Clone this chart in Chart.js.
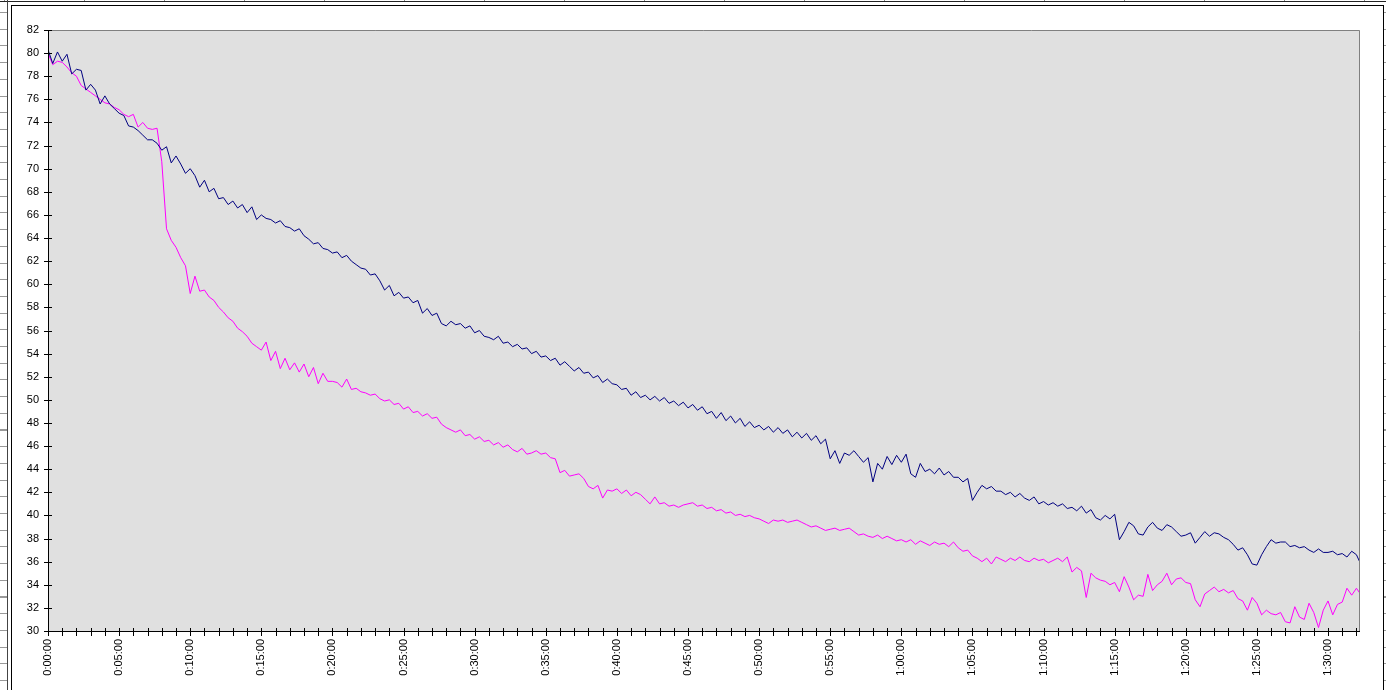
<!DOCTYPE html>
<html>
<head>
<meta charset="utf-8">
<script src="https://cdn.jsdelivr.net/npm/chart.js@4.4.1/dist/chart.umd.min.js"></script>
<style>
  html, body { margin: 0; padding: 0; background: #fff; width: 1386px; height: 690px; overflow: hidden; }
  .abs { position: absolute; }
  #topline { left: 0; top: 1px; width: 1386px; height: 1px; background: #222; }
  #cols { left: 0; top: 0; width: 1386px; height: 1px;
    background: repeating-linear-gradient(to right, transparent 0 4px, #888 4px 5px, transparent 5px 80px); }
  #leftv { left: 7px; top: 0; width: 1px; height: 690px; background: #444; }
  #leftrows { left: 0; top: 0; width: 7px; height: 690px;
    background: repeating-linear-gradient(to bottom, transparent 0 12px, #999 12px 13px, transparent 13px 16.7px); }
  #rightrows { left: 1384px; top: 0; width: 2px; height: 690px;
    background: repeating-linear-gradient(to bottom, transparent 0 12px, #999 12px 13px, transparent 13px 16.7px); }
  #frame { left: 11px; top: 5px; width: 1373px; height: 700px; border: 1px solid #000; box-sizing: border-box; background: #fff; }
  #wrap { left: 12px; top: 6px; width: 1371px; height: 684px; }
</style>
</head>
<body>
<div class="abs" id="cols"></div>
<div class="abs" id="topline"></div>
<div class="abs" id="leftrows"></div>
<div class="abs" id="leftv"></div>
<div class="abs" id="rightrows"></div>
<div class="abs" id="frame"></div>
<div class="abs" id="wrap"><canvas id="c" width="1371" height="684"></canvas></div>
<script>
// Sampling interval of the recorded series (minutes): one value every 20 s
const STEP_MIN = 1 / 3;

// Series 1 (navy) – values every 20 s starting at 0:00:00
const navySeries = [
  80.3, 79.1, 80.1,  79.3, 79.9, 78.2,  78.6, 78.5, 76.8,  77.3, 76.8, 75.6,
  76.3, 75.6, 75.2,  74.8, 74.6, 73.7,  73.6, 73.3, 72.9,  72.5, 72.5, 72.2,
  71.6, 71.9, 70.5,  71.1, 70.4, 69.6,  70.0, 69.4, 68.4,  69.0, 68.0, 68.3,
  67.4, 67.5, 66.9,  67.2, 66.6, 66.9,  66.2, 66.7, 65.6,  66.0, 65.7, 65.6,
  65.3, 65.5, 65.0,  64.9, 64.6, 64.8,  64.2, 63.9, 63.5,  63.6, 63.1, 63.0,
  62.7, 62.8, 62.3,  62.5, 62.0, 61.7,  61.4, 61.3, 60.8,  60.9, 60.3, 59.5,
  59.9, 59.0, 59.3,  58.8, 58.9, 58.4,  58.6, 57.5, 57.9,  57.3, 57.5, 56.6,
  56.4, 56.8, 56.5,  56.6, 56.2, 56.4,  55.8, 56.0, 55.5,  55.4, 55.2, 55.5,
  54.9, 55.0, 54.6,  54.8, 54.4, 54.5,  54.0, 54.2, 53.7,  53.8, 53.4, 53.6,
  53.0, 53.3, 52.9,  52.5, 52.8, 52.3,  52.4, 51.9, 52.1,  51.5, 51.8, 51.4,
  51.3, 50.9, 51.0,  50.4, 50.7, 50.2,  50.4, 50.0, 50.3,  49.9, 50.2, 49.7,
  49.9, 49.5, 49.8,  49.3, 49.6, 49.1,  49.4, 48.8, 49.0,  48.4, 48.9, 48.2,
  48.6, 48.0, 48.4,  47.7, 48.1, 47.6,  47.8, 47.4, 47.7,  47.2, 47.6, 47.1,
  47.4, 46.8, 47.2,  46.7, 47.1, 46.5,  46.9, 46.2, 46.6,  44.9, 45.6, 44.5,
  45.4, 45.2, 45.6,  45.1, 44.6, 45.0,  42.9, 44.5, 44.0,  45.1, 44.4, 45.2,
  44.6, 45.3, 43.6,  43.3, 44.5, 43.8,  44.0, 43.6, 44.1,  43.5, 43.8, 43.3,
  43.3, 42.9, 43.2,  41.3, 42.0, 42.6,  42.3, 42.5, 42.1,  42.1, 41.8, 42.0,
  41.6, 41.9, 41.5,  41.3, 41.6, 41.0,  41.2, 40.9, 41.1,  40.8, 41.0, 40.6,
  40.7, 40.4, 40.8,  40.2, 40.5, 39.8,  39.6, 40.0, 39.7,  40.1, 37.9, 38.6,
  39.4, 39.1, 38.4,  38.3, 39.0, 39.4,  38.9, 38.7, 39.2,  39.0, 38.6, 38.2,
  38.3, 38.5, 37.6,  38.1, 38.6, 38.2,  38.5, 38.4, 38.1,  37.9, 37.5, 37.0,
  37.2, 36.6, 35.8,  35.7, 36.6, 37.3,  37.9, 37.6, 37.7,  37.7, 37.3, 37.4,
  37.2, 37.3, 37.0,  36.8, 37.1, 36.8,  36.8, 36.9, 36.6,  36.7, 36.4, 36.9,
  36.6, 35.7
];

// Series 2 (magenta) – values every 20 s starting at 0:00:00
const magentaSeries = [
  80.0, 79.0, 79.3,  79.2, 78.8, 78.3,  78.0, 77.2, 76.9,  76.6, 76.3, 76.0,
  75.7, 75.6, 75.3,  75.1, 74.7, 74.5,  74.7, 73.6, 74.0,  73.5, 73.4, 73.5,
  70.6, 64.8, 63.8,  63.2, 62.3, 61.6,  59.2, 60.7, 59.4,  59.5, 58.9, 58.6,
  58.0, 57.6, 57.1,  56.8, 56.2, 55.9,  55.5, 54.9, 54.6,  54.3, 55.0, 53.4,
  54.2, 52.7, 53.6,  52.6, 53.2, 52.4,  53.1, 52.0, 52.8,  51.4, 52.3, 51.6,
  51.6, 51.5, 51.1,  51.8, 50.9, 51.0,  50.7, 50.6, 50.4,  50.5, 50.1, 49.9,
  50.0, 49.6, 49.7,  49.2, 49.4, 48.9,  49.0, 48.6, 48.8,  48.4, 48.5, 47.9,
  47.6, 47.4, 47.2,  47.4, 46.9, 47.0,  46.6, 46.8, 46.4,  46.5, 46.1, 46.3,
  45.9, 46.1, 45.7,  45.5, 45.8, 45.3,  45.4, 45.6, 45.3,  45.4, 45.0, 44.9,
  43.7, 43.9, 43.4,  43.5, 43.6, 43.2,  42.5, 42.3, 42.6,  41.5, 42.2, 42.1,
  42.3, 41.9, 42.2,  41.7, 42.0, 41.8,  41.4, 41.0, 41.6,  41.0, 41.1, 40.8,
  40.9, 40.7, 40.9,  41.0, 41.1, 40.8,  40.9, 40.6, 40.7,  40.4, 40.5, 40.2,
  40.3, 40.0, 40.1,  39.9, 40.0, 39.8,  39.7, 39.5, 39.3,  39.6, 39.5, 39.6,
  39.4, 39.5, 39.6,  39.4, 39.2, 39.0,  39.1, 38.9, 38.7,  38.8, 38.9, 38.7,
  38.8, 38.9, 38.6,  38.3, 38.4, 38.2,  38.1, 38.3, 38.0,  38.2, 38.0, 37.8,
  37.9, 37.7, 37.9,  37.5, 37.8, 37.6,  37.4, 37.7, 37.5,  37.6, 37.3, 37.7,
  37.2, 36.9, 37.0,  36.5, 36.3, 36.0,  36.3, 35.8, 36.4,  36.2, 36.0, 36.3,
  36.1, 36.4, 36.1,  36.0, 36.3, 36.1,  36.2, 35.9, 36.1,  36.3, 36.0, 36.4,
  35.1, 35.5, 35.2,  32.9, 35.0, 34.6,  34.4, 34.3, 34.0,  34.2, 33.4, 34.7,
  33.8, 32.7, 33.1,  33.0, 34.9, 33.5,  34.0, 34.3, 35.0,  34.0, 34.5, 34.6,
  34.2, 34.1, 32.7,  32.1, 33.2, 33.5,  33.8, 33.4, 33.6,  33.3, 33.5, 32.8,
  32.6, 31.8, 32.9,  32.4, 31.4, 31.8,  31.5, 31.4, 31.6,  30.8, 30.7, 32.1,
  31.2, 31.0, 32.4,  31.6, 30.3, 31.8,  32.6, 31.4, 32.3,  32.5, 33.7, 33.1,
  33.7, 33.1
];

// Axis settings
const yMin = 30, yMax = 82, yStep = 2;
const xMinMinutes = 0, xMaxMinutes = 92.25;
const xLabelEveryMinutes = 5;

function fmtTime(m) {
  const h = Math.floor(m / 60);
  const mm = Math.round(m % 60);
  return h + ':' + String(mm).padStart(2, '0') + ':00';
}

const toPoints = arr => arr.map((v, i) => ({ x: i * STEP_MIN, y: v }));

const plotDeco = {
  id: 'plotDeco',
  beforeDatasetsDraw(chart) {
    const { ctx, chartArea: a } = chart;
    ctx.save();
    ctx.fillStyle = '#E0E0E0';
    ctx.fillRect(a.left, a.top, a.right - a.left, a.bottom - a.top);
    ctx.restore();
  },
  afterDatasetsDraw(chart) {
    const { ctx, chartArea: a, scales } = chart;
    ctx.save();
    ctx.lineWidth = 1;
    // top & right border, grey
    ctx.strokeStyle = '#808080';
    ctx.beginPath();
    ctx.moveTo(a.left, a.top + 0.5);
    ctx.lineTo(a.right - 0.5, a.top + 0.5);
    ctx.lineTo(a.right - 0.5, a.bottom);
    ctx.stroke();
    // axes, black
    ctx.strokeStyle = '#000';
    ctx.beginPath();
    ctx.moveTo(a.left + 0.5, a.top);
    ctx.lineTo(a.left + 0.5, a.bottom + 0.5);
    ctx.lineTo(a.right, a.bottom + 0.5);
    ctx.stroke();
    // tick marks crossing the axes
    ctx.beginPath();
    scales.y.ticks.forEach(t => {
      const y = Math.round(scales.y.getPixelForValue(t.value)) + 0.5;
      ctx.moveTo(a.left - 4, y);
      ctx.lineTo(a.left + 4, y);
    });
    scales.x.ticks.forEach(t => {
      const x = Math.round(scales.x.getPixelForValue(t.value)) + 0.5;
      ctx.moveTo(x, a.bottom - 3);
      ctx.lineTo(x, a.bottom + 5);
    });
    ctx.stroke();
    ctx.restore();
  }
};

const font = { family: "'Liberation Sans', Arial, sans-serif", size: 11 };

new Chart(document.getElementById('c'), {
  type: 'line',
  data: {
    datasets: [
      { label: 'navy', data: toPoints(navySeries), borderColor: '#000080', borderWidth: 1, pointRadius: 0, tension: 0, fill: false },
      { label: 'magenta', data: toPoints(magentaSeries), borderColor: '#FF00FF', borderWidth: 1, pointRadius: 0, tension: 0, fill: false }
    ]
  },
  options: {
    responsive: false,
    animation: false,
    layout: { padding: { top: 24, right: 23, left: 0, bottom: 0 } },
    plugins: { legend: { display: false }, tooltip: { enabled: false } },
    scales: {
      x: {
        type: 'linear',
        min: xMinMinutes, max: xMaxMinutes,
        grid: { display: false, drawTicks: false },
        border: { display: false },
        afterFit: s => { s.height = 59; },
        ticks: {
          stepSize: 1, includeBounds: false, autoSkip: false,
          minRotation: 90, maxRotation: 90, padding: 8,
          color: '#000', font,
          callback: v => (Math.abs(v % xLabelEveryMinutes) < 1e-6 ? fmtTime(v) : '')
        }
      },
      y: {
        min: yMin, max: yMax,
        grid: { display: false, drawTicks: false },
        border: { display: false },
        afterFit: s => { s.width = 36; },
        ticks: { stepSize: yStep, padding: 9, color: '#000', font }
      }
    }
  },
  plugins: [plotDeco]
});
</script>
</body>
</html>
